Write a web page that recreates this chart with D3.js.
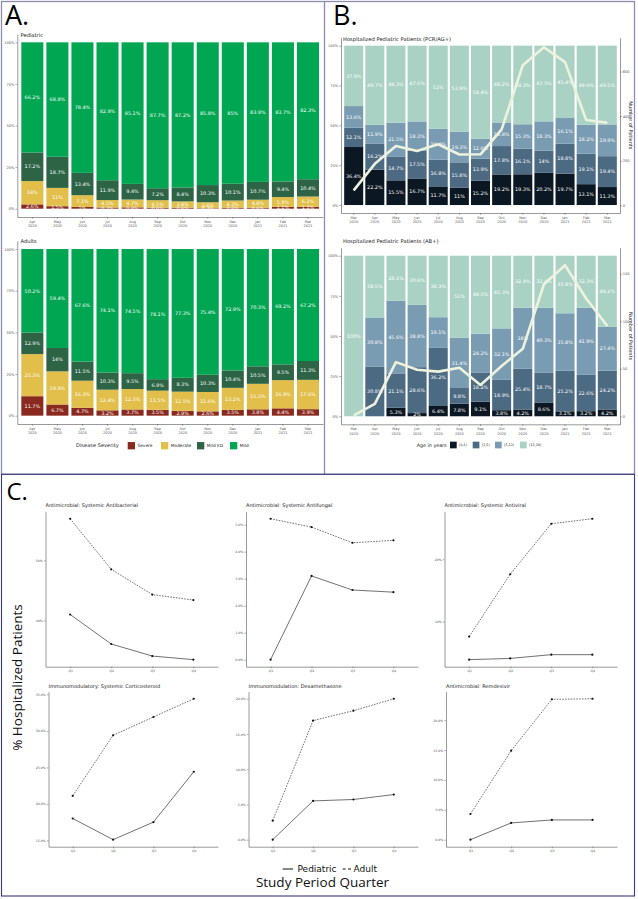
<!DOCTYPE html>
<html>
<head>
<meta charset="utf-8">
<script src="https://cdn.jsdelivr.net/npm/d3@7"></script>
<style>
  body { margin: 0; background: #fff; }
  svg { display: block; }
  text { font-family: 'DejaVu Sans', sans-serif; }
</style>
</head>
<body>
<div id="chart"></div>
<script>
// ---- panel A: disease severity by month (%)
const monthsA = ['Apr 2020', 'May 2020', 'Jun 2020', 'Jul 2020', 'Aug 2020', 'Sep 2020', 'Oct 2020', 'Nov 2020', 'Dec 2020', 'Jan 2021', 'Feb 2021', 'Mar 2021'];
const severityKeys = ['Severe', 'Moderate', 'Mild ED', 'Mild'];
const severityColors = ['#8a2a1f', '#e1bf4a', '#2d6446', '#00a651'];
const pedSevere = [2.6, 1.5, 1, 0.7, 0.8, 0.6, 0.6, 0.3, 0.6, 0.6, 1.1, 1.1];
const pedModerate = [14, 11, 7.1, 4.5, 4.7, 4.5, 3.8, 3.6, 4.3, 4.8, 5.9, 6.2];
const pedMildED = [17.2, 18.7, 13.4, 11.9, 9.4, 7.2, 8.4, 10.3, 10.1, 10.7, 9.4, 10.4];
const pedMild = [66.2, 68.8, 78.4, 82.9, 85.1, 87.7, 87.2, 85.8, 85, 83.9, 83.7, 82.3];
const adSevere = [11.7, 6.7, 4.7, 3.2, 3.7, 3.5, 2.9, 2.6, 3.5, 3.8, 4.4, 3.9];
const adModerate = [25.3, 19.9, 16.3, 12.4, 12.3, 11.5, 11.5, 11.6, 13.2, 15.3, 16.9, 17.6];
const adMildED = [12.9, 14, 11.5, 10.3, 9.5, 6.9, 8.3, 10.3, 10.4, 10.5, 9.5, 11.3];
const adMild = [50.2, 59.4, 67.6, 74.1, 74.5, 78.1, 77.3, 75.4, 72.9, 70.3, 69.2, 67.2];
const pctTicks = [0, 0.25, 0.5, 0.75, 1];

// ---- panel B: age groups of hospitalized pediatric patients (%), plus patient counts
const monthsB = ['Mar 2020', 'Apr 2020', 'May 2020', 'Jun 2020', 'Jul 2020', 'Aug 2020', 'Sep 2020', 'Oct 2020', 'Nov 2020', 'Dec 2020', 'Jan 2021', 'Feb 2021', 'Mar 2021'];
const ageKeys = ['[0,1)', '[1,5)', '[5,12)', '[12,19]'];
const ageColors = ['#0b1722', '#4d6a83', '#7a9cb2', '#a9d2c4'];
const pcrAge0 = [36.4, 22.2, 15.5, 16.7, 11.7, 11, 15.2, 19.2, 19.3, 20.2, 19.7, 13.1, 11.3];
const pcrAge1 = [12.1, 16.2, 14.7, 17.5, 16.8, 15.8, 13.9, 17.8, 16.1, 14, 18.8, 19.1, 19.4];
const pcrAge5 = [13.6, 11.9, 21.5, 18.3, 19.4, 19.3, 12.6, 14.8, 15.3, 18.3, 16.1, 18.2, 19.9];
const pcrAge12 = [37.9, 49.7, 48.3, 47.6, 52, 53.9, 58.4, 48.2, 49.3, 47.5, 45.4, 49.6, 49.5];
const pcrCount = [66, 185, 265, 243, 273, 227, 228, 340, 628, 709, 642, 382, 370];
const pcrCountTicks = [0, 200, 400, 600];
const abAge0 = [0, 0, 5.3, 2, 6.4, 7.8, 9.1, 3.8, 4.2, 8.6, 3.1, 3.2, 4.2];
const abAge1 = [0, 30.8, 21.1, 28.6, 36.2, 9.8, 18.2, 18.9, 25.4, 18.7, 25.2, 22.6, 24.2];
const abAge5 = [0, 30.8, 45.6, 38.8, 19.1, 31.4, 24.2, 32.1, 38, 40.3, 35.8, 41.9, 27.4];
const abAge12 = [100, 38.5, 28.1, 30.6, 38.3, 51, 48.5, 45.3, 32.4, 32.4, 35.8, 32.3, 44.2];
const abCount = [1, 13, 57, 49, 47, 51, 33, 53, 71, 139, 159, 124, 95];
const abCountTicks = [0, 50, 100, 150];

// ---- panel C: % hospitalized patients by study quarter
const quarters = ['Q1', 'Q2', 'Q3', 'Q4'];
const facetTitles = [
  'Antimicrobial: Systemic Antibacterial', 'Antimicrobial: Systemic Antifungal', 'Antimicrobial: Systemic Antiviral',
  'Immunomodulatory: Systemic Corticosteroid', 'Immunomodulation: Dexamethasone', 'Antimicrobial: Remdesivir'
];
const antibacterialPed = [41.0, 36.1, 34.1, 33.5];
const antibacterialAdult = [56.9, 48.5, 44.3, 43.4];
const antifungalPed = [0, 3.1, 2.58, 2.5];
const antifungalAdult = [5.22, 4.91, 4.33, 4.42];
const antiviralPed = [3.9, 4.1, 4.7, 4.7];
const antiviralAdult = [7.6, 17.6, 25.7, 26.5];
const corticoPed = [18.0, 15.1, 17.5, 24.4];
const corticoAdult = [21.1, 29.4, 31.9, 34.4];
const dexaPed = [0, 5.5, 5.7, 6.4];
const dexaAdult = [2.7, 16.9, 18.3, 20.0];
const remdesivirPed = [0, 2.8, 3.3, 3.3];
const remdesivirAdult = [4.3, 14.9, 23.5, 23.6];
const facetTicks = [[40, 50], [0, 1, 2, 3, 4, 5], [10, 20], [15, 20, 25, 30, 35], [0, 5, 10, 15, 20], [0, 5, 10, 15, 20]];
const facetDecimals = [0, 1, 0, 1, 1, 1];

const W = 638, H = 899;
const axisColor = '#555';
const tickColor = '#555';

const svg = d3.select('#chart').append('svg').attr('width', W).attr('height', H);

//style a d3 axis group
function styleAxis(g, fontSize) {
  g.select('.domain').attr('stroke', axisColor).attr('stroke-width', 0.6);
  g.selectAll('.tick line').attr('stroke', axisColor).attr('stroke-width', 0.5);
  g.selectAll('.tick text').attr('fill', tickColor).style('font-size', fontSize + 'px').attr('font-family', null);
  g.attr('font-family', null).attr('font-size', null);
}

//month labels on two lines
function twoLineTicks(g) {
  g.selectAll('.tick text').each(function (d) {
    let t = d3.select(this);
    let parts = d.split(' ');
    t.text(null).attr('dy', null);
    parts.forEach((p, i) => t.append('tspan').attr('x', 0).attr('dy', i ? '1.2em' : '0.95em').text(p));
  });
}

function rowsFrom(cats, keys, arrays) {
  return cats.map((c, i) => {
    let row = { cat: c };
    keys.forEach((k, j) => (row[k] = arrays[j][i]));
    return row;
  });
}

function stackedPanel(o) {
  let g = svg.append('g');
  let x = d3
    .scaleBand()
    .domain(o.cats)
    .range([o.left, o.right])
    .paddingInner(o.pi)
    .paddingOuter(0.6 - (1 - o.pi) / 2);
  let y = d3.scaleLinear().domain([-0.05, 1.05]).range([o.bottom, o.top]);
  let color = d3.scaleOrdinal(o.keys, o.colors);
  let rows = rowsFrom(o.cats, o.keys, o.arrays);
  let series = d3.stack().keys(o.keys).offset(d3.stackOffsetExpand)(rows);

  //title
  g.append('text').attr('x', o.titleX).attr('y', o.titleY).text(o.title).style('font-size', '5.2px').attr('fill', '#222');

  //bars
  g.append('g')
    .selectAll('g')
    .data(series)
    .join('g')
    .attr('fill', (d) => color(d.key))
    .selectAll('rect')
    .data((d) => d)
    .join('rect')
    .attr('x', (d) => x(d.data.cat))
    .attr('width', x.bandwidth())
    .attr('y', (d) => y(d[1]))
    .attr('height', (d) => y(d[0]) - y(d[1]));

  //segment labels
  g.append('g')
    .selectAll('g')
    .data(series)
    .join('g')
    .selectAll('text')
    .data((d) => d.map((p) => ({ p: p, v: p.data[d.key] })).filter((e) => e.v > 0))
    .join('text')
    .attr('x', (d) => x(d.p.data.cat) + x.bandwidth() / 2)
    .attr('y', (d) => y((d.p[0] + d.p[1]) / 2))
    .attr('dy', '0.35em')
    .attr('text-anchor', 'middle')
    .attr('fill', '#fff')
    .style('font-size', '4.9px')
    .text((d) => `${d.v}%`);

  //axes
  let yAxis = g
    .append('g')
    .attr('transform', `translate(${o.left},0)`)
    .call(d3.axisLeft(y).tickValues(pctTicks).tickFormat(d3.format('.0%')).tickSize(1.8).tickSizeOuter(0).tickPadding(1));
  styleAxis(yAxis, 3.6);
  let xAxis = g
    .append('g')
    .attr('transform', `translate(0,${o.bottom})`)
    .call(d3.axisBottom(x).tickSize(1.8).tickSizeOuter(0).tickPadding(1));
  styleAxis(xAxis, 3.5);
  twoLineTicks(xAxis);

  //patient count line on secondary axis
  if (o.counts) {
    let yR = d3.scaleLinear().domain([-0.05 * o.countMax, 1.05 * o.countMax]).range([o.bottom, o.top]);
    let rAxis = g
      .append('g')
      .attr('transform', `translate(${o.right},0)`)
      .call(d3.axisRight(yR).tickValues(o.countTicks).tickSize(1.8).tickSizeOuter(0).tickPadding(1));
    styleAxis(rAxis, 3.6);
    g.append('text')
      .attr('transform', `translate(${o.right + 8.5},${(o.top + o.bottom) / 2}) rotate(90)`)
      .attr('text-anchor', 'middle')
      .style('font-size', '5px')
      .attr('fill', '#222')
      .text('Number of Patients');
    let line = d3
      .line()
      .x((d, i) => x(o.cats[i]) + x.bandwidth() / 2)
      .y((d) => yR(d));
    g.append('path')
      .datum(o.counts)
      .attr('d', line)
      .attr('fill', 'none')
      .attr('stroke', '#edf2df')
      .attr('stroke-width', 2.6)
      .attr('stroke-linejoin', 'round');
  }
}

//legend row with square swatches
function legendRow(title, tx, ty, keys, colors, xs, size, fs) {
  let g = svg.append('g');
  g.append('text').attr('x', tx).attr('y', ty).attr('dy', '0.35em').style('font-size', fs[0] + 'px').attr('fill', '#222').text(title);
  keys.forEach((k, i) => {
    g.append('rect').attr('x', xs[i]).attr('y', ty - size / 2).attr('width', size).attr('height', size).attr('fill', colors[i]);
    g.append('text')
      .attr('x', xs[i] + size + 2.5)
      .attr('y', ty)
      .attr('dy', '0.35em')
      .style('font-size', fs[1] + 'px')
      .attr('fill', '#222')
      .text(k);
  });
}

// ===== Panel A
stackedPanel({
  cats: monthsA, keys: severityKeys, colors: severityColors,
  arrays: [pedSevere, pedModerate, pedMildED, pedMild],
  left: 17.3, right: 323, top: 34, bottom: 217, pi: 0.12,
  title: 'Pediatric', titleX: 20.5, titleY: 37
});
stackedPanel({
  cats: monthsA, keys: severityKeys, colors: severityColors,
  arrays: [adSevere, adModerate, adMildED, adMild],
  left: 17.3, right: 323, top: 240.7, bottom: 424, pi: 0.12,
  title: 'Adults', titleX: 20.5, titleY: 243
});
legendRow('Disease Severity', 76, 445.7, severityKeys, severityColors, [127.7, 161, 197, 230], 7.3, [5.1, 4.3]);

// ===== Panel B
stackedPanel({
  cats: monthsB, keys: ageKeys, colors: ageColors,
  arrays: [pcrAge0, pcrAge1, pcrAge5, pcrAge12],
  left: 341, right: 620, top: 37.7, bottom: 213, pi: 0.1,
  title: 'Hospitalized Pediatric Patients (PCR/AG+)', titleX: 343, titleY: 40.5,
  counts: pcrCount, countMax: 716, countTicks: pcrCountTicks
});
stackedPanel({
  cats: monthsB, keys: ageKeys, colors: ageColors,
  arrays: [abAge0, abAge1, abAge5, abAge12],
  left: 341, right: 620, top: 247.7, bottom: 424.3, pi: 0.1,
  title: 'Hospitalized Pediatric Patients (AB+)', titleX: 343, titleY: 242.5,
  counts: abCount, countMax: 169, countTicks: abCountTicks
});
legendRow('Age in years', 416.7, 445, ageKeys, ageColors, [450, 472.7, 495, 520], 6.7, [4.8, 3.3]);

// ===== Panel C
const facetPed = [antibacterialPed, antifungalPed, antiviralPed, corticoPed, dexaPed, remdesivirPed];
const facetAdult = [antibacterialAdult, antifungalAdult, antiviralAdult, corticoAdult, dexaAdult, remdesivirAdult];
const facetLeft = [45.5, 246, 444.5, 48.5, 248.5, 446];
const facetRight = [218, 418, 617];
const facetTop = [511.7, 691.7];
const facetBottom = [666.7, 846.7];
const facetTitleY = [506.5, 688];

facetTitles.forEach((title, f) => {
  let row = Math.floor(f / 3);
  let col = f % 3;
  let l = facetLeft[f], r = facetRight[col], t = facetTop[row], b = facetBottom[row];
  let g = svg.append('g');
  let all = facetPed[f].concat(facetAdult[f]);
  let [lo, hi] = d3.extent(all);
  let pad = (hi - lo) * 0.05;
  let x = d3.scalePoint().domain(quarters).range([l, r]).padding(0.6);
  let y = d3.scaleLinear().domain([lo - pad, hi + pad]).range([b, t]);

  g.append('text').attr('x', l).attr('y', facetTitleY[row]).style('font-size', '5px').attr('fill', '#222').text(title);

  let yAxis = g
    .append('g')
    .attr('transform', `translate(${l},0)`)
    .call(
      d3.axisLeft(y).tickValues(facetTicks[f]).tickFormat((d) => d.toFixed(facetDecimals[f]) + '%').tickSize(1.6).tickSizeOuter(0).tickPadding(1)
    );
  styleAxis(yAxis, 3.2);
  let xAxis = g
    .append('g')
    .attr('transform', `translate(0,${b})`)
    .call(d3.axisBottom(x).tickSize(1.6).tickSizeOuter(0).tickPadding(1.5));
  styleAxis(xAxis, 3.2);

  let line = d3
    .line()
    .x((d, i) => x(quarters[i]))
    .y((d) => y(d));
  [facetPed[f], facetAdult[f]].forEach((vals, s) => {
    g.append('path')
      .datum(vals)
      .attr('d', line)
      .attr('fill', 'none')
      .attr('stroke', '#333')
      .attr('stroke-width', 0.7)
      .attr('stroke-dasharray', s ? '1.6,1.2' : null);
    g.selectAll(null)
      .data(vals)
      .join('circle')
      .attr('cx', (d, i) => x(quarters[i]))
      .attr('cy', (d) => y(d))
      .attr('r', 1.1)
      .attr('fill', '#111');
  });
});

//panel C axis titles and legend
svg.append('text')
  .attr('transform', 'translate(22,677.5) rotate(-90)')
  .attr('text-anchor', 'middle')
  .style('font-family', "'Open Sans', sans-serif")
  .style('font-size', '13.5px')
  .attr('fill', '#111')
  .text('% Hospitalized Patients');
svg.append('text')
  .attr('x', 322.5)
  .attr('y', 887)
  .attr('text-anchor', 'middle')
  .style('font-family', "'Open Sans', sans-serif")
  .style('font-size', '13.5px')
  .attr('fill', '#111')
  .text('Study Period Quarter');
let legC = svg.append('g').style('font-family', "'Open Sans', sans-serif");
legC.append('line').attr('x1', 282.7).attr('x2', 293).attr('y1', 869).attr('y2', 869).attr('stroke', '#111').attr('stroke-width', 1);
legC.append('text').attr('x', 297.5).attr('y', 869).attr('dy', '0.35em').style('font-size', '9px').attr('fill', '#111').text('Pediatric');
legC.append('line').attr('x1', 342.7).attr('x2', 351).attr('y1', 869).attr('y2', 869).attr('stroke', '#111').attr('stroke-width', 1).attr('stroke-dasharray', '3,2.3');
legC.append('text').attr('x', 353.5).attr('y', 869).attr('dy', '0.35em').style('font-size', '9px').attr('fill', '#111').text('Adult');

//panel letters
[['A.', 5, 25, 27], ['B.', 333, 25, 27], ['C.', 6.5, 500, 24]].forEach(([t, x, y, fs]) => {
  svg.append('text')
    .attr('x', x)
    .attr('y', y)
    .style('font-family', "'Open Sans', sans-serif")
    .style('font-size', fs + 'px')
    .attr('fill', '#000')
    .text(t);
});

//panel frames
svg.append('rect').attr('x', 1.5).attr('y', 1.5).attr('width', 633).attr('height', 472.8)
  .attr('fill', 'none').attr('stroke', '#8c8cae').attr('stroke-width', 1.3);
svg.append('line').attr('x1', 324.5).attr('x2', 324.5).attr('y1', 1.5).attr('y2', 474)
  .attr('stroke', '#8c8cae').attr('stroke-width', 1.3);
svg.append('rect').attr('x', 1.5).attr('y', 474.3).attr('width', 633).attr('height', 421.7)
  .attr('fill', 'none').attr('stroke', '#3a3a80').attr('stroke-width', 1.1);
</script>
</body>
</html>
